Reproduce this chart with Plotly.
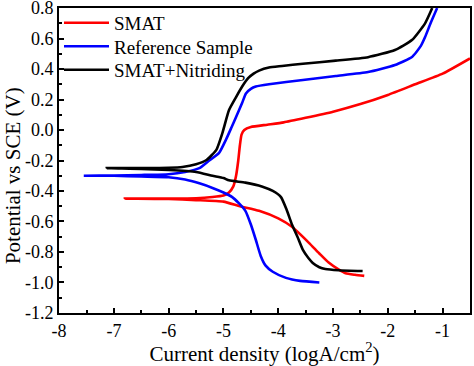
import plotly.graph_objects as go

# ---- data ----
smat_cath_x = [-2.43, -2.6, -2.77, -2.9, -3.08, -3.25, -3.44, -3.75, -4.0, -4.35, -4.7, -5.0, -5.5, -6.0]
smat_cath_y = [-0.957, -0.95, -0.94, -0.915, -0.87, -0.81, -0.74, -0.635, -0.58, -0.53, -0.5, -0.47, -0.46, -0.453]
smat_anod_x = [-6.8, -6.0, -5.5, -5.2, -5.0, -4.9, -4.82, -4.77, -4.73, -4.7, -4.67, -4.62, -4.5, -4.2, -3.9, -3.5, -3.0, -2.5, -2.0, -1.5, -1.0, -0.5]
smat_anod_y = [-0.45, -0.45, -0.448, -0.44, -0.43, -0.41, -0.37, -0.3, -0.2, -0.1, -0.03, 0.0, 0.02, 0.035, 0.05, 0.08, 0.12, 0.17, 0.23, 0.3, 0.37, 0.47]

ref_cath_x = [-3.25, -3.6, -3.86, -4.1, -4.23, -4.32, -4.41, -4.5, -4.6, -4.72, -4.84, -5.0, -5.2, -5.44, -5.7, -6.0, -6.5, -7.0]
ref_cath_y = [-1.0, -0.99, -0.97, -0.93, -0.89, -0.826, -0.72, -0.62, -0.53, -0.48, -0.44, -0.41, -0.38, -0.35, -0.325, -0.31, -0.305, -0.30]
ref_anod_x = [-7.55, -7.0, -6.5, -6.0, -5.7, -5.44, -5.26, -5.08, -4.95, -4.85, -4.77, -4.66, -4.59, -4.5, -4.41, -4.17, -3.55, -2.95, -2.36, -1.87, -1.56, -1.4, -1.32, -1.22, -1.1]
ref_anod_y = [-0.30, -0.298, -0.295, -0.29, -0.275, -0.25, -0.2, -0.15, -0.06, 0.02, 0.085, 0.177, 0.24, 0.27, 0.285, 0.3, 0.328, 0.354, 0.38, 0.426, 0.479, 0.55, 0.61, 0.7, 0.8]

nit_cath_x = [-2.46, -2.9, -3.14, -3.25, -3.37, -3.45, -3.55, -3.65, -3.75, -3.85, -3.95, -4.1, -4.3, -4.6, -4.9, -5.0, -5.2, -5.5, -6.0, -6.5]
nit_cath_y = [-0.925, -0.92, -0.912, -0.9, -0.872, -0.84, -0.787, -0.7, -0.62, -0.52, -0.44, -0.40, -0.37, -0.345, -0.33, -0.315, -0.3, -0.275, -0.262, -0.255]
nit_anod_x = [-7.13, -6.5, -6.0, -5.75, -5.5, -5.31, -5.13, -5.02, -4.9, -4.77, -4.65, -4.55, -4.45, -4.35, -4.17, -3.93, -3.55, -2.95, -2.36, -1.87, -1.56, -1.32, -1.19]
nit_anod_y = [-0.25, -0.25, -0.248, -0.243, -0.225, -0.197, -0.13, -0.02, 0.13, 0.216, 0.29, 0.34, 0.37, 0.39, 0.41, 0.42, 0.435, 0.455, 0.478, 0.525, 0.59, 0.7, 0.8]

series_names = ["SMAT", "Reference Sample", "SMAT+Nitriding"]
series_colors = ["#ff0000", "#0000ff", "#000000"]

x_tickvals = [-8, -7, -6, -5, -4, -3, -2, -1]
x_ticktext = ["-8", "-7", "-6", "-5", "-4", "-3", "-2", "-1"]
y_tickvals = [-1.2, -1.0, -0.8, -0.6, -0.4, -0.2, 0.0, 0.2, 0.4, 0.6, 0.8]
y_ticktext = ["-1.2", "-1.0", "-0.8", "-0.6", "-0.4", "-0.2", "0.0", "0.2", "0.4", "0.6", "0.8"]

FONT = "Liberation Serif"

fig = go.Figure()
curves = [
    (smat_cath_x + smat_anod_x, smat_cath_y + smat_anod_y),
    (ref_cath_x + ref_anod_x, ref_cath_y + ref_anod_y),
    (nit_cath_x + nit_anod_x, nit_cath_y + nit_anod_y),
]
legend_ids = ["legend", "legend2", "legend3"]
legend_y = [0.951, 0.874, 0.797]
for (xs, ys), name, col, lid in zip(curves, series_names, series_colors, legend_ids):
    fig.add_trace(go.Scatter(x=xs, y=ys, mode="lines", name=name, legend=lid,
                             line=dict(color=col, width=2.6, shape="spline", smoothing=0.5)))

axis_common = dict(
    showgrid=False, zeroline=False, showline=True, linecolor="black", linewidth=2,
    mirror=True, ticks="inside", ticklen=5, tickwidth=1.5, tickcolor="black",
    tickfont=dict(family=FONT, size=18, color="black"), automargin=False,
    ticklabeloverflow="allow",
)
fig.update_xaxes(range=[-8.002, -0.5], tickvals=x_tickvals, ticktext=x_ticktext,
                 minor=dict(ticks="inside", ticklen=3, tickwidth=1.5, tickcolor="black", dtick=0.5, tick0=-8),
                 title=dict(text="Current density (logA/cm<sup>2</sup>)", font=dict(family=FONT, size=21, color="black"), standoff=2),
                 **axis_common)
fig.update_yaxes(range=[-1.2005, 0.8005], tickvals=y_tickvals, ticktext=y_ticktext,
                 minor=dict(ticks="inside", ticklen=3, tickwidth=1.5, tickcolor="black", dtick=0.1, tick0=-1.2),
                 **axis_common)

fig.add_annotation(text="Potential vs SCE (V)", xref="paper", yref="paper",
                   x=-0.112, y=0.452, xanchor="center", yanchor="middle",
                   textangle=-90, showarrow=False,
                   font=dict(family=FONT, size=21, color="black"))

legend_common = dict(x=0, xanchor="left", yanchor="middle", bgcolor="rgba(0,0,0,0)",
                     font=dict(family=FONT, size=19, color="black"), itemwidth=45)
fig.update_layout(
    width=474, height=366,
    margin=dict(l=59, r=4, t=8, b=53),
    font=dict(family=FONT, color="black"),
    plot_bgcolor="white", paper_bgcolor="white",
    showlegend=True,
    legend=dict(y=legend_y[0], **legend_common),
    legend2=dict(y=legend_y[1], **legend_common),
    legend3=dict(y=legend_y[2], **legend_common),
)

fig.write_html("out.html", config={"displayModeBar": False},
               post_script="document.body.style.margin='0';")
